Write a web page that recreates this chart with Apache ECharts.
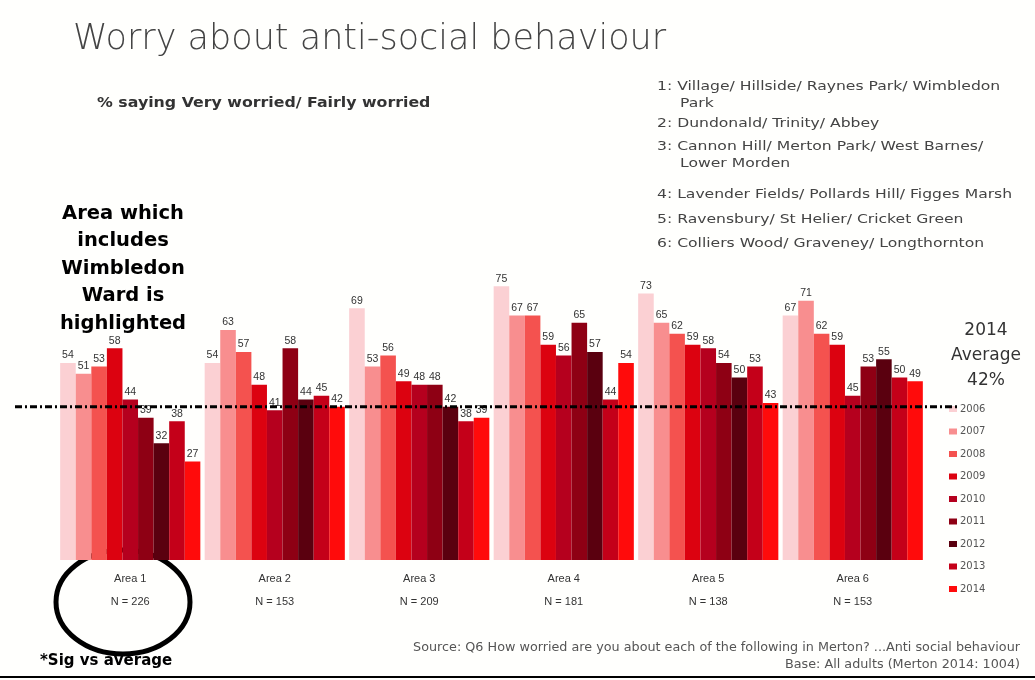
<!DOCTYPE html>
<html>
<head>
<meta charset="utf-8">
<script src="https://cdn.jsdelivr.net/npm/echarts@6/dist/echarts.min.js"></script>
<style>
  html, body { margin: 0; padding: 0; background: #fffffd; }
  #chart { width: 1035px; height: 680px; }
</style>
</head>
<body>
<div id="chart"></div>
<script>
// Areas and sample sizes
const areas = ['Area 1', 'Area 2', 'Area 3', 'Area 4', 'Area 5', 'Area 6'];
const sampleSizes = ['N = 226', 'N = 153', 'N = 209', 'N = 181', 'N = 138', 'N = 153'];
const years = ['2006', '2007', '2008', '2009', '2010', '2011', '2012', '2013', '2014'];

// % saying very / fairly worried, one array per survey year (Area 1..6)
const y2006 = [54, 54, 69, 75, 73, 67];
const y2007 = [51, 63, 53, 67, 65, 71];
const y2008 = [53, 57, 56, 67, 62, 62];
const y2009 = [58, 48, 49, 59, 59, 59];
const y2010 = [44, 41, 48, 56, 58, 45];
const y2011 = [39, 58, 48, 65, 54, 53];
const y2012 = [32, 44, 42, 57, 50, 55];
const y2013 = [38, 45, 38, 44, 53, 50];
const y2014 = [27, 42, 39, 54, 43, 49];
const averageValue = 42;

const yearValues = [y2006, y2007, y2008, y2009, y2010, y2011, y2012, y2013, y2014];
const yearColors = ['#fbd0d3', '#f88e8f', '#f4524f', '#dc0210', '#b5001e', '#8e0014', '#5a000f', '#c40019', '#ff0b0b'];

const chart = echarts.init(document.getElementById('chart'), null, { renderer: 'canvas' });

const series = years.map((yr, i) => ({
  name: yr,
  type: 'bar',
  data: yearValues[i],
  barGap: '0%',
  barCategoryGap: '3%',
  itemStyle: { color: yearColors[i] },
  label: {
    show: true,
    position: 'top',
    distance: 2,
    fontSize: 10.5,
    color: '#333',
    fontFamily: 'Liberation Sans'
  }
}));

// Ward list beside the title
const listLines = [
  ['1: Village/ Hillside/ Raynes Park/ Wimbledon', 657, 80],
  ['Park', 680, 97],
  ['2: Dundonald/ Trinity/ Abbey', 657, 117],
  ['3: Cannon Hill/ Merton Park/ West Barnes/', 657, 140],
  ['Lower Morden', 680, 157],
  ['4: Lavender Fields/ Pollards Hill/ Figges Marsh', 657, 188],
  ['5: Ravensbury/ St Helier/ Cricket Green', 657, 213],
  ['6: Colliers Wood/ Graveney/ Longthornton', 657, 237]
];

function txt(text, x, y, font, fill, extra) {
  return Object.assign({
    type: 'text', x: x, y: y,
    style: Object.assign({ text: text, font: font, fill: fill, verticalAlign: 'top' }, (extra && extra.style) || {})
  }, (extra && extra.el) || {});
}

const graphics = [
  txt('Worry about anti-social behaviour', 73, 22, '200 35px "DejaVu Sans"', '#444'),
  txt('% saying Very worried/ Fairly worried', 97, 96, 'bold 13.5px "DejaVu Sans"', '#333', { el: { scaleX: 1.17 } }),
  txt('Area which\nincludes\nWimbledon\nWard is\nhighlighted', 123, 200, 'bold 19.5px "DejaVu Sans"', '#000', { style: { align: 'center', lineHeight: 27.5 } }),
  txt('2014\nAverage\n42%', 986, 318, '17px "DejaVu Sans"', '#333', { style: { align: 'center', lineHeight: 25 } }),
  txt('*Sig vs average', 40, 654, 'bold 15px "DejaVu Sans"', '#000'),
  txt('Source: Q6 How worried are you about each of the following in Merton? ...Anti social behaviour\nBase: All adults (Merton 2014: 1004)', 1020, 640, '11.5px "DejaVu Sans"', '#555', { style: { align: 'right', lineHeight: 17 }, el: { scaleX: 1.11 } }),
  { type: 'line', shape: { x1: 0, y1: 677, x2: 1035, y2: 677 }, style: { stroke: '#000', lineWidth: 2 } },
  { type: 'ellipse', shape: { cx: 123, cy: 602, rx: 67, ry: 52 }, style: { fill: 'none', stroke: '#000', lineWidth: 5 } }
];
listLines.forEach(([t, x, y]) => {
  graphics.push(txt(t, x, y, '13px "DejaVu Sans"', '#444', { el: { scaleX: 1.2 } }));
});

chart.setOption({
  backgroundColor: '#fffffd',
  animation: false,
  grid: { left: 58, right: 110, top: 195, bottom: 120, containLabel: false },
  xAxis: {
    type: 'category',
    data: areas.map((a, i) => a + '\n' + sampleSizes[i]),
    axisLine: { show: false },
    axisTick: { show: false },
    axisLabel: { color: '#333', fontSize: 11, fontFamily: 'Liberation Sans', lineHeight: 23, margin: 7 }
  },
  yAxis: {
    type: 'value',
    min: 0,
    max: 100,
    show: false,
    splitLine: { show: false }
  },
  legend: {
    orient: 'vertical',
    left: 944,
    top: 399,
    itemWidth: 8,
    itemHeight: 6,
    itemGap: 12.5,
    icon: 'rect',
    textStyle: { fontSize: 10, color: '#555', fontFamily: 'DejaVu Sans', padding: [0, 0, 0, -2] },
    data: years
  },
  series: series,
  graphic: graphics
});

// 2014 average reference line, placed through the value axis scale
const avgY = chart.convertToPixel({ yAxisIndex: 0 }, averageValue);
graphics.push({
  type: 'line',
  z: 50,
  shape: { x1: 15, y1: avgY, x2: 958, y2: avgY },
  style: { stroke: '#000', lineWidth: 3, lineDash: [7, 3, 2, 3] }
});
chart.setOption({ graphic: graphics });
</script>
</body>
</html>
